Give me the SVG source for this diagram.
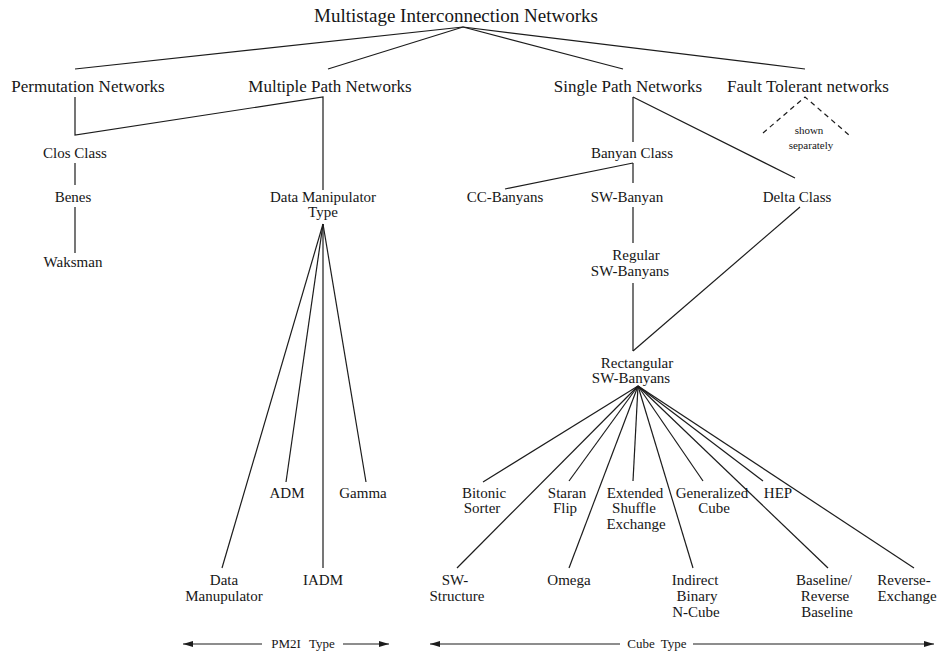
<svg xmlns="http://www.w3.org/2000/svg" width="939" height="656" viewBox="0 0 939 656">
  <style>
    text { font-family: "Liberation Serif", "Times New Roman", serif; fill: #161616; text-anchor: middle; }
    .t0 { font-size: 19px; }
    .t1 { font-size: 17px; }
    .t2 { font-size: 15px; }
    .t3 { font-size: 11px; }
    .t4 { font-size: 13px; }
    .edge { stroke: #1c1c1c; stroke-width: 1.2; fill: none; }
    .dash { stroke: #1c1c1c; stroke-width: 1.2; fill: none; stroke-dasharray: 5 4; }
  </style>
  <defs>
    <marker id="arrow" viewBox="0 0 10 6" refX="10" refY="3" markerWidth="10" markerHeight="6" markerUnits="userSpaceOnUse" orient="auto-start-reverse">
      <path d="M0,0 L10,3 L0,6 Z" fill="#1c1c1c"/>
    </marker>
  </defs>

  <rect width="939" height="656" fill="#ffffff"/>

  <!-- connectors -->
  <g id="connectors">
    <!-- root to the four families -->
    <line class="edge" x1="463" y1="27" x2="75" y2="69"/>
    <line class="edge" x1="463" y1="27" x2="328" y2="69"/>
    <line class="edge" x1="463" y1="27" x2="623" y2="69"/>
    <line class="edge" x1="463" y1="27" x2="805" y2="69"/>

    <!-- permutation / multiple path -->
    <path class="edge" d="M75,97 L75,135 L323,97 L323,190"/>
    <line class="edge" x1="75" y1="163" x2="75" y2="185"/>
    <line class="edge" x1="75" y1="207" x2="75" y2="253"/>

    <!-- data manipulator fan -->
    <line class="edge" x1="323" y1="224" x2="222" y2="568"/>
    <line class="edge" x1="323" y1="224" x2="286" y2="482"/>
    <line class="edge" x1="323" y1="224" x2="323" y2="568"/>
    <line class="edge" x1="323" y1="224" x2="366" y2="482"/>

    <!-- single path -->
    <line class="edge" x1="633" y1="97" x2="633" y2="142"/>
    <line class="edge" x1="633" y1="97" x2="795" y2="178"/>
    <line class="edge" x1="633" y1="163" x2="633" y2="183"/>
    <line class="edge" x1="633" y1="163" x2="505" y2="189"/>
    <line class="edge" x1="633" y1="207" x2="633" y2="243"/>
    <line class="edge" x1="633" y1="283" x2="633" y2="351"/>
    <line class="edge" x1="800" y1="207" x2="633" y2="351"/>

    <!-- fault tolerant (dashed) -->
    <path class="dash" d="M763,133 L805,97 L849,135"/>

    <!-- rectangular SW-banyan fan -->
    <line class="edge" x1="638" y1="386" x2="483" y2="482"/>
    <line class="edge" x1="638" y1="386" x2="457" y2="568"/>
    <line class="edge" x1="638" y1="386" x2="569" y2="481"/>
    <line class="edge" x1="638" y1="386" x2="569" y2="568"/>
    <line class="edge" x1="638" y1="386" x2="633" y2="481"/>
    <line class="edge" x1="638" y1="386" x2="693" y2="568"/>
    <line class="edge" x1="638" y1="386" x2="703" y2="481"/>
    <line class="edge" x1="638" y1="386" x2="763" y2="481"/>
    <line class="edge" x1="638" y1="386" x2="828" y2="568"/>
    <line class="edge" x1="638" y1="386" x2="914" y2="568"/>

    <!-- type ranges -->
    <line class="edge" x1="262" y1="644" x2="183" y2="644" marker-end="url(#arrow)"/>
    <line class="edge" x1="343" y1="644" x2="389" y2="644" marker-end="url(#arrow)"/>
    <line class="edge" x1="620" y1="644" x2="430" y2="644" marker-end="url(#arrow)"/>
    <line class="edge" x1="693" y1="644" x2="934" y2="644" marker-end="url(#arrow)"/>
  </g>

  <!-- nodes -->
  <g id="min"><text class="t0" x="456" y="22">Multistage Interconnection Networks</text></g>

  <g id="permutation"><text class="t1" x="88" y="92">Permutation Networks</text></g>
  <g id="multiple-path"><text class="t1" x="330" y="92">Multiple Path Networks</text></g>
  <g id="single-path"><text class="t1" x="628" y="92">Single Path Networks</text></g>
  <g id="fault-tolerant"><text class="t1" x="808" y="92">Fault Tolerant networks</text></g>

  <g id="shown-separately">
    <text class="t3" x="809" y="134">shown</text>
    <text class="t3" x="811" y="149">separately</text>
  </g>

  <g id="clos"><text class="t2" x="75" y="158">Clos Class</text></g>
  <g id="benes"><text class="t2" x="73" y="202">Benes</text></g>
  <g id="waksman"><text class="t2" x="73" y="267">Waksman</text></g>

  <g id="data-manipulator-type">
    <text class="t2" x="323" y="202">Data Manipulator</text>
    <text class="t2" x="323" y="217">Type</text>
  </g>
  <g id="adm"><text class="t2" x="287" y="498">ADM</text></g>
  <g id="gamma"><text class="t2" x="363" y="498">Gamma</text></g>
  <g id="data-manupulator">
    <text class="t2" x="224" y="585">Data</text>
    <text class="t2" x="224" y="601">Manupulator</text>
  </g>
  <g id="iadm"><text class="t2" x="323" y="585">IADM</text></g>

  <g id="banyan"><text class="t2" x="632" y="158">Banyan Class</text></g>
  <g id="cc-banyans"><text class="t2" x="505" y="202">CC-Banyans</text></g>
  <g id="sw-banyan"><text class="t2" x="627" y="202">SW-Banyan</text></g>
  <g id="delta"><text class="t2" x="797" y="202">Delta Class</text></g>
  <g id="regular">
    <text class="t2" x="636" y="260">Regular</text>
    <text class="t2" x="630" y="276">SW-Banyans</text>
  </g>
  <g id="rectangular">
    <text class="t2" x="637" y="368">Rectangular</text>
    <text class="t2" x="631" y="383">SW-Banyans</text>
  </g>

  <g id="bitonic">
    <text class="t2" x="484" y="498">Bitonic</text>
    <text class="t2" x="482" y="513">Sorter</text>
  </g>
  <g id="staran">
    <text class="t2" x="567" y="498">Staran</text>
    <text class="t2" x="565" y="513">Flip</text>
  </g>
  <g id="extended-shuffle">
    <text class="t2" x="635" y="498">Extended</text>
    <text class="t2" x="634" y="513">Shuffle</text>
    <text class="t2" x="636" y="529">Exchange</text>
  </g>
  <g id="generalized-cube">
    <text class="t2" x="712" y="498">Generalized</text>
    <text class="t2" x="714" y="513">Cube</text>
  </g>
  <g id="hep"><text class="t2" x="778" y="498">HEP</text></g>

  <g id="sw-structure">
    <text class="t2" x="455" y="585">SW-</text>
    <text class="t2" x="457" y="601">Structure</text>
  </g>
  <g id="omega"><text class="t2" x="569" y="585">Omega</text></g>
  <g id="indirect-binary">
    <text class="t2" x="695" y="585">Indirect</text>
    <text class="t2" x="697" y="601">Binary</text>
    <text class="t2" x="696" y="617">N-Cube</text>
  </g>
  <g id="baseline">
    <text class="t2" x="824" y="585">Baseline/</text>
    <text class="t2" x="825" y="601">Reverse</text>
    <text class="t2" x="827" y="617">Baseline</text>
  </g>
  <g id="reverse-exchange">
    <text class="t2" x="904" y="585">Reverse-</text>
    <text class="t2" x="907" y="601">Exchange</text>
  </g>

  <g id="pm2i-type"><text class="t4" x="303" y="648" style="word-spacing:5px">PM2I Type</text></g>
  <g id="cube-type"><text class="t4" x="657" y="648" style="word-spacing:3px">Cube Type</text></g>
</svg>
